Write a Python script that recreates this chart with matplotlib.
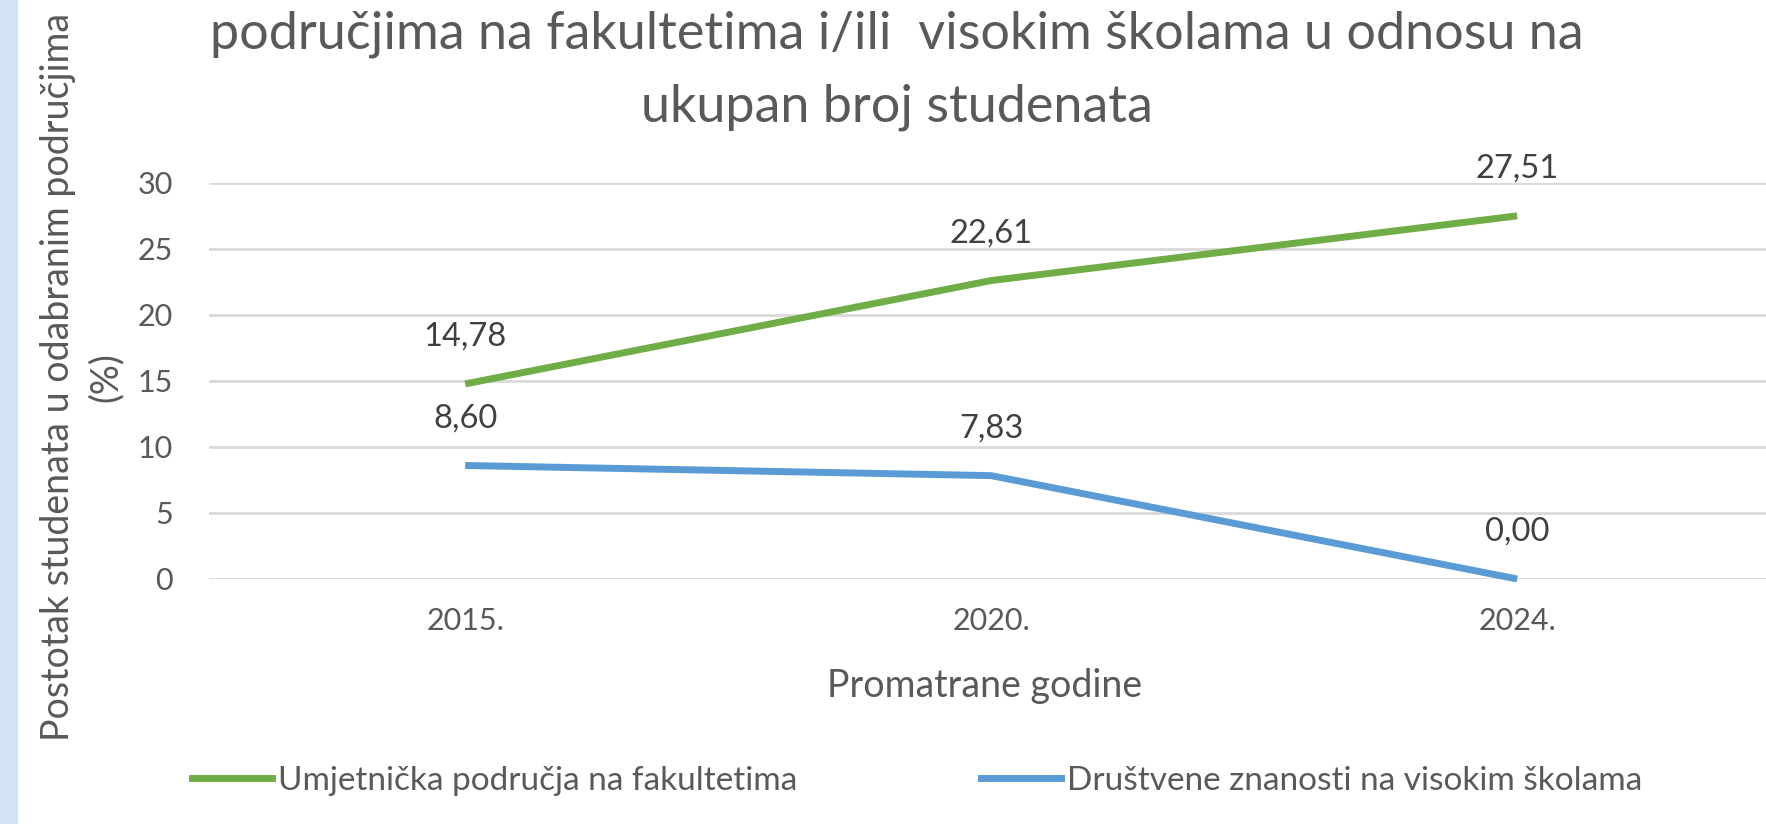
import matplotlib.pyplot as plt
from matplotlib.patches import Rectangle

# data
years = ['2015.', '2020.', '2024.']
umjetnicka = [14.78, 22.61, 27.51]
drustvene = [8.60, 7.83, 0.00]
series_names = ['Umjetnička područja na fakultetima', 'Društvene znanosti na visokim školama']
y_ticks = [0, 5, 10, 15, 20, 25, 30]

title_lines = 'područjima na fakultetima i/ili  visokim školama u odnosu na\nukupan broj studenata'
y_label = 'Postotak studenata u odabranim područjima\n(%)'
x_label = 'Promatrane godine'

green = '#70AD47'
blue = '#5B9BD5'
txt = '#595959'
W, H = 1766, 824

plt.rcParams['font.family'] = ['Lato', 'DejaVu Sans']

fig = plt.figure(figsize=(W / 100, H / 100), dpi=100)
fig.patches.append(Rectangle((0, 0), 17 / W, 1, transform=fig.transFigure,
                             color='#D2E3F3', zorder=0))

ax = fig.add_axes([209 / W, (H - 579) / H, (W - 209) / W, 396 / H])
x = list(range(len(years)))
ax.plot(x, umjetnicka, color=green, lw=5, solid_capstyle='butt', clip_on=False, zorder=3)
ax.plot(x, drustvene, color=blue, lw=5, solid_capstyle='butt', clip_on=False, zorder=3)

for vals in (umjetnicka, drustvene):
    for xi, v in zip(x, vals):
        ax.annotate(f'{v:.2f}'.replace('.', ','), (xi, v), xytext=(0, 34),
                    textcoords='offset points', ha='center', va='center',
                    fontsize=23.5, color='#404040')

ax.set_xlim(-0.487, 2.473)
ax.set_ylim(0, 30)
ax.set_yticks(y_ticks)
ax.set_xticks(x)
ax.set_xticklabels(years)
ax.tick_params(length=0, labelsize=22, labelcolor=txt)
ax.tick_params(axis='y', pad=26)
ax.tick_params(axis='x', pad=20)
ax.grid(axis='y', color='#D9D9D9', lw=2)
ax.set_axisbelow(True)
for s in ax.spines.values():
    s.set_visible(False)

fig.text(897 / W, 1 - 71 / H, title_lines, ha='center', va='center',
         fontsize=37.5, color=txt, linespacing=1.68)
fig.text(985 / W, 1 - 686 / H, x_label, ha='center', va='center',
         fontsize=27, color=txt)
fig.text(82 / W, 1 - 377 / H, y_label, ha='center', va='center', rotation=90,
         fontsize=27, color=txt, linespacing=1.4, multialignment='center')

handles = [plt.Line2D([], [], color=green, lw=5), plt.Line2D([], [], color=blue, lw=5)]
fig.legend(handles, series_names, loc='center', bbox_to_anchor=(917 / W, 1 - 781 / H),
           ncol=2, frameon=False, fontsize=24, labelcolor=txt,
           handlelength=2.4, handletextpad=0.18, columnspacing=5.5)

fig.savefig('out.png', dpi=100)
